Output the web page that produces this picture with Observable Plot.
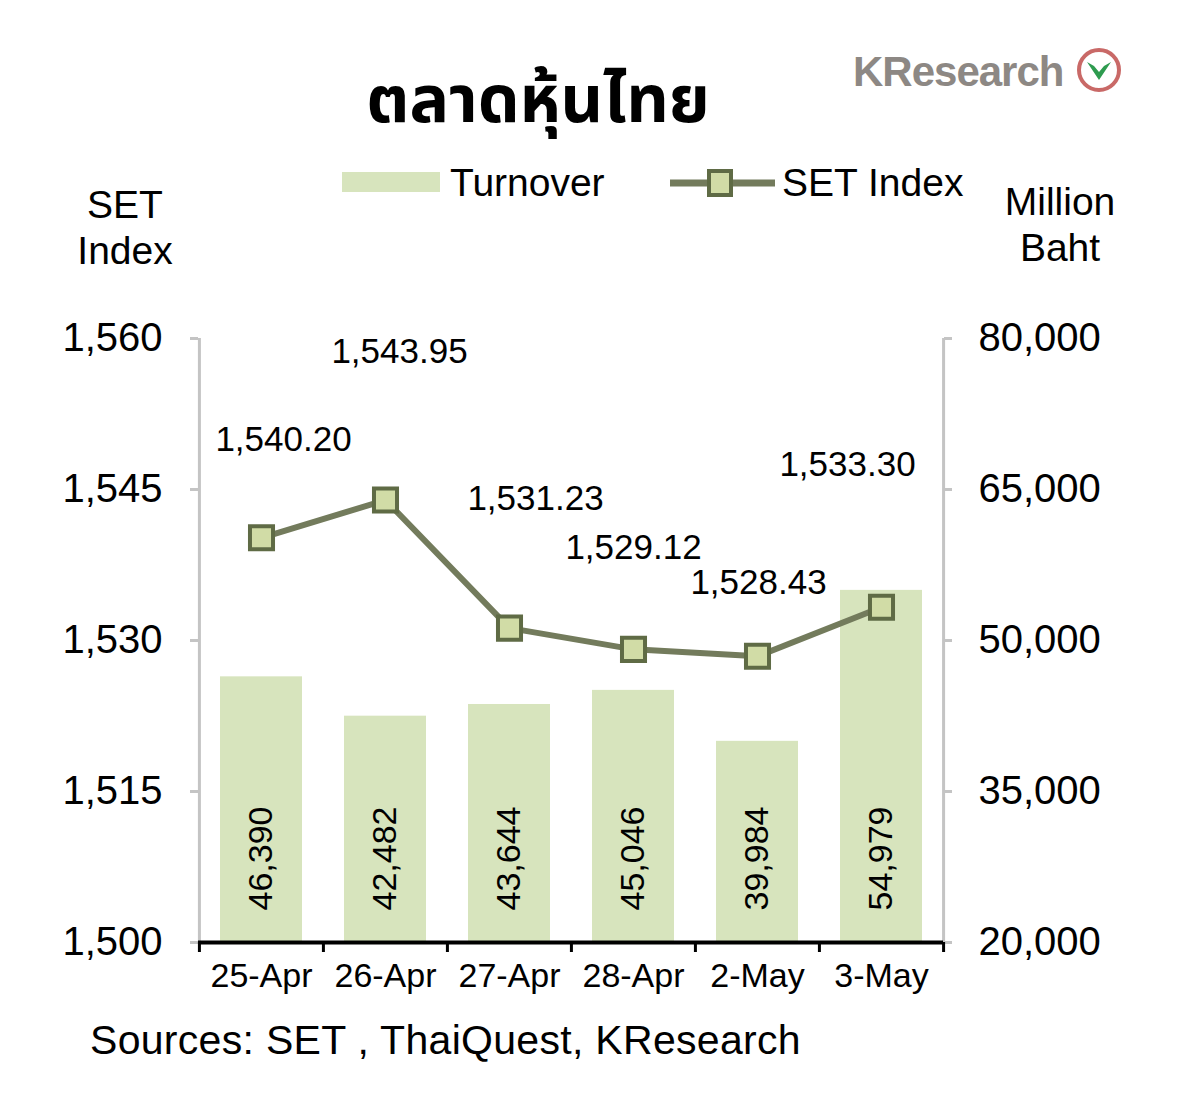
<!DOCTYPE html>
<html><head><meta charset="utf-8">
<script src="https://cdn.jsdelivr.net/npm/d3@7"></script>
<script src="https://cdn.jsdelivr.net/npm/@observablehq/plot@0.6"></script>
<style>
body{margin:0;background:#fff;font-family:"Liberation Sans",Arial,sans-serif;}
#wrap{position:relative;width:1200px;height:1106px;overflow:hidden;background:#fff;}
.abs{position:absolute;white-space:nowrap;color:#000;line-height:1;}
#chart{position:absolute;left:0;top:300px;}
</style></head><body><div id="wrap">
<div class="abs" style="left:288px;width:500px;top:52px;text-align:center;font:bold 66px 'Noto Sans Thai','Noto Sans','DejaVu Sans',sans-serif;">ตลาดหุ้นไทย</div>
<div class="abs" style="left:853px;top:48px;font:bold 42px 'Liberation Sans',Arial,sans-serif;color:#8d8884;letter-spacing:-1px;">KResearch</div>
<svg class="abs" style="left:1074px;top:46px" width="50" height="50" viewBox="0 0 50 50">
  <circle cx="25" cy="24" r="20" fill="#fff" stroke="#c0504d" stroke-width="4" opacity="0.85"/>
  <path d="M13 16 L25 34 L37 16 L30 20 L25 26 L20 20 Z" fill="#2e9b4f"/>
</svg>
<div class="abs" style="left:342px;top:172px;width:98px;height:20px;background:#d7e4bd;"></div>
<div class="abs" style="left:450px;top:163px;font-size:39px;">Turnover</div>
<svg class="abs" style="left:665px;top:166px" width="115" height="34">
  <line x1="5" y1="17" x2="110" y2="17" stroke="#737b5c" stroke-width="7"/>
  <rect x="44" y="5" width="22" height="24" fill="#d1dca6" stroke="#5f6b45" stroke-width="4"/>
</svg>
<div class="abs" style="left:782px;top:163px;font-size:39px;">SET Index</div>
<div class="abs" style="left:45px;width:160px;top:182px;text-align:center;font-size:39px;line-height:46px;">SET<br>Index</div>
<div class="abs" style="left:980px;width:160px;top:179px;text-align:center;font-size:39px;line-height:46px;">Million<br>Baht</div>
<div id="chart"></div>
<div class="abs" style="left:90px;top:1020px;font-size:41px;letter-spacing:0.3px;">Sources: SET , ThaiQuest, KResearch</div>
</div>
<script>
// ---- data ----
const dates = ["25-Apr", "26-Apr", "27-Apr", "28-Apr", "2-May", "3-May"];
const setIndex = [1540.20, 1543.95, 1531.23, 1529.12, 1528.43, 1533.30];
const turnover = [46390, 42482, 43644, 45046, 39984, 54979];
const leftTicks = [1500, 1515, 1530, 1545, 1560];
const rightTicks = [20000, 35000, 50000, 65000, 80000];

// secondary axis mapping (Million Baht -> SET index units)
const toIdx = v => 1500 + (v - 20000) * (60 / 60000);
const fromIdx = y => (y - 1500) * 1000 + 20000;

const rows = dates.map((d, i) => ({date: d, set: setIndex[i], turnover: turnover[i]}));

const W = 1200, H = 700, mL = 198, mR = 257, mT = 38, mB = 58;
const step = (W - mL - mR) / dates.length;
const labelNudge = [[22, -98], [14, -148], [26, -129], [0, -102], [1, -74], [-34, -142]];
const f2 = d3.format(",.2f"), f0 = d3.format(",");

const plot = Plot.plot({
  width: W, height: H,
  marginLeft: mL, marginRight: mR, marginTop: mT, marginBottom: mB,
  style: {fontFamily: "'Liberation Sans', Arial, sans-serif", background: "transparent", color: "#000"},
  x: {type: "band", domain: dates, paddingInner: 0.34, paddingOuter: 0.17},
  y: {domain: [1500, 1560]},
  marks: [
    Plot.barY(rows, {x: "date", y1: () => 1500, y2: d => toIdx(d.turnover), fill: "#d7e4bd"}),
    Plot.text(rows, {x: "date", y: () => 1500, text: d => f0(d.turnover), rotate: -90, textAnchor: "start", dy: -32, fontSize: 34, fill: "#000"}),
    // left & right axis lines
    Plot.ruleX([dates[0]], {x: d => d, y1: 1500, y2: 1560, dx: -step / 2, stroke: "#c4c4c4", strokeWidth: 3}),
    Plot.ruleX([dates[dates.length - 1]], {x: d => d, y1: 1500, y2: 1560, dx: step / 2, stroke: "#c4c4c4", strokeWidth: 3}),
    Plot.axisY({anchor: "left", ticks: leftTicks, tickFormat: f0, tickSize: 8, tickPadding: 28, stroke: "#c4c4c4", strokeWidth: 3, fill: "#000", fontSize: 40, label: null}),
    Plot.axisY({anchor: "right", ticks: rightTicks.map(toIdx), tickFormat: d => f0(Math.round(fromIdx(d))), tickSize: 8, tickPadding: 27, stroke: "#c4c4c4", strokeWidth: 3, fill: "#000", fontSize: 40, label: null}),
    // category boundary ticks on the bottom axis
    Plot.axisX({tickSize: 10, tickFormat: () => "", dx: -step / 2, stroke: "#000", strokeWidth: 3, label: null}),
    Plot.axisX({ticks: [dates[dates.length - 1]], tickSize: 10, tickFormat: () => "", dx: step / 2, stroke: "#000", strokeWidth: 3, label: null}),
    Plot.ruleY([1500], {stroke: "#000", strokeWidth: 4}),
    Plot.axisX({tickSize: 0, tickPadding: 20, fontSize: 34, fill: "#000", label: null}),
    // SET index line
    Plot.line(rows, {x: "date", y: "set", stroke: "#737b5c", strokeWidth: 6}),
    Plot.dot(rows, {x: "date", y: "set", symbol: "square", r: 13, fill: "#d1dca6", stroke: "#5f6b45", strokeWidth: 4}),
    ...labelNudge.map(([dx, dy], i) => Plot.text([rows[i]], {x: "date", y: "set", text: d => f2(d.set), dx, dy, fontSize: 35, fill: "#000"}))
  ]
});
document.getElementById("chart").appendChild(plot);
</script>
</body></html>
